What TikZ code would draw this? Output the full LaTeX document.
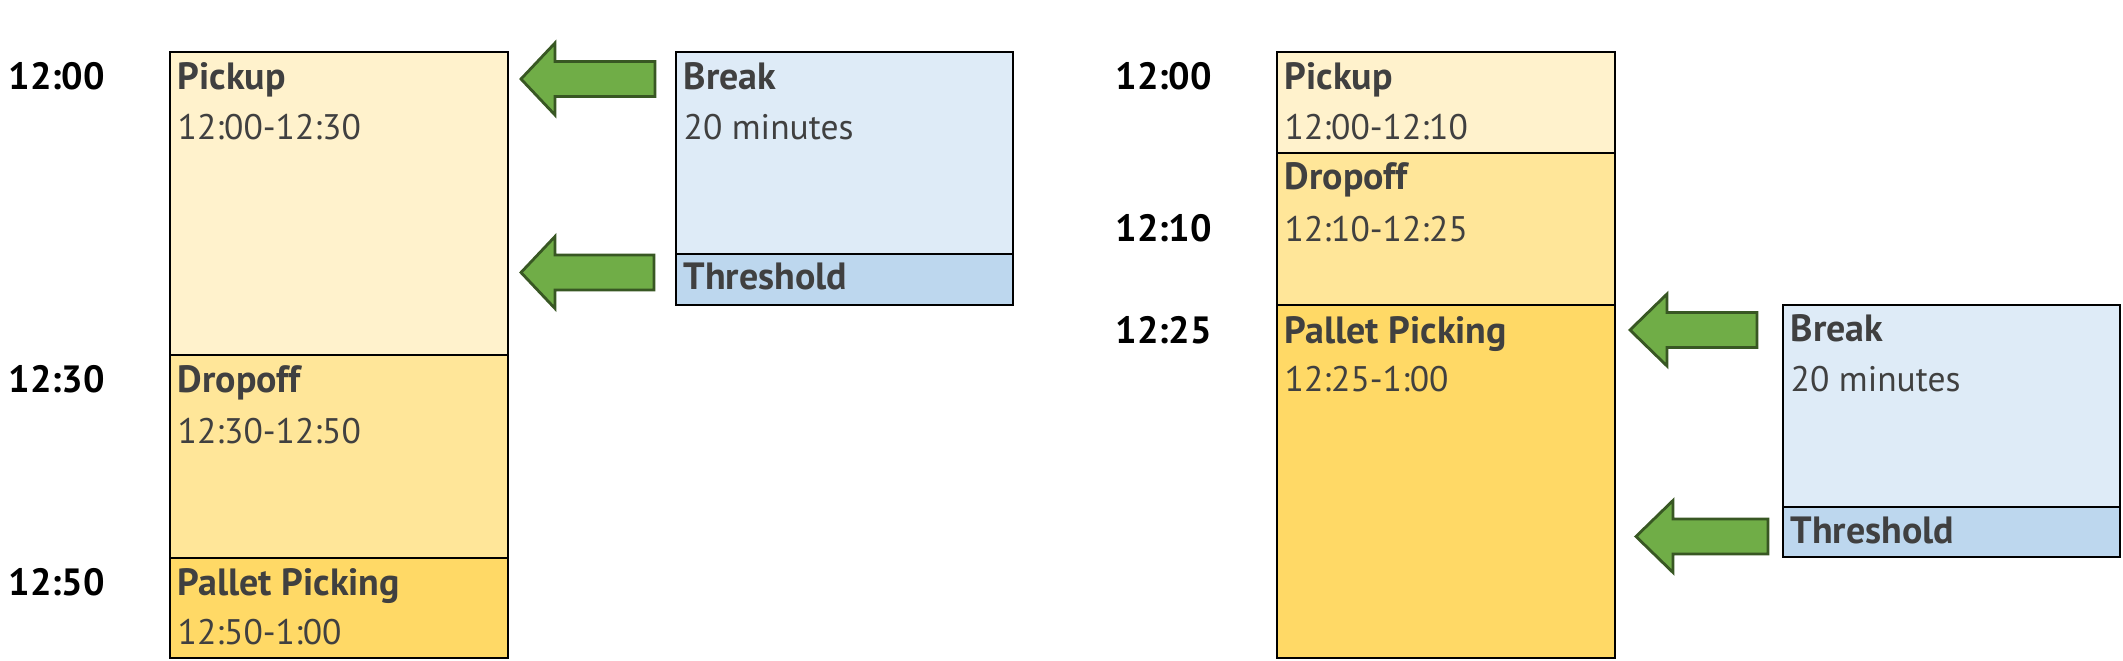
\documentclass[tikz,border=0pt]{standalone}
\usepackage{fontspec}
\setmainfont{PT Sans}

\definecolor{pickfill}{HTML}{FFF2CC}
\definecolor{dropfill}{HTML}{FFE699}
\definecolor{palletfill}{HTML}{FFD966}
\definecolor{breakfill}{HTML}{DEEBF7}
\definecolor{threshfill}{HTML}{BDD7EE}
\definecolor{arrowfill}{HTML}{70AD47}
\definecolor{arrowline}{HTML}{385723}
\definecolor{labeltext}{HTML}{404040}

\tikzset{
  slot/.style={draw=black, line width=0.6pt, rectangle, inner sep=0pt, outer sep=0pt, anchor=north west},
  clock/.style={anchor=base west, inner sep=0pt, font=\fontsize{10.8}{13}\selectfont\bfseries},
  title/.style={anchor=base west, inner sep=0pt, text=labeltext, font=\fontsize{10.8}{13}\selectfont\bfseries},
  span/.style={anchor=base west, inner sep=0pt, text=labeltext, font=\fontsize{10.1}{12}\selectfont},
  blockarrow/.style={draw=arrowline, fill=arrowfill, line width=0.8pt, line join=miter}
}

% tip x, head base x, tail x, middle y
\newcommand{\greenarrow}[4]{%
  \draw[blockarrow] (#1,#4) -- (#2,#4-36) -- (#2,#4-17.5) -- (#3,#4-17.5)
    -- (#3,#4+17.5) -- (#2,#4+17.5) -- (#2,#4+36) -- cycle;}

\begin{document}
\begin{tikzpicture}[x=0.01cm, y=-0.01cm]
    \useasboundingbox (0,0) rectangle (2123,661);

    % left schedule
    \node (pickA) [slot, fill=pickfill, minimum width=3.38cm, minimum height=3.03cm] at (170,52) {};
    \node (dropA) [slot, fill=dropfill, minimum width=3.38cm, minimum height=2.03cm] at (170,355) {};
    \node (palletA) [slot, fill=palletfill, minimum width=3.38cm, minimum height=1.00cm] at (170,558) {};
    \node (clockA1) [clock] at (8,90) {12:00};
    \node (clockA2) [clock] at (8,393) {12:30};
    \node (clockA3) [clock] at (8,596) {12:50};
    \node (pickAt) [title] at (177,90) {Pickup};
    \node (pickAs) [span] at (177,140) {12:00-12:30};
    \node (dropAt) [title] at (177,393) {Dropoff};
    \node (dropAs) [span] at (177,444) {12:30-12:50};
    \node (palletAt) [title] at (177,596) {Pallet Picking};
    \node (palletAs) [span] at (177,645) {12:50-1:00};

    \node (breakA) [slot, fill=breakfill, minimum width=3.37cm, minimum height=2.02cm] at (676,52) {};
    \node (threshA) [slot, fill=threshfill, minimum width=3.37cm, minimum height=0.51cm] at (676,254) {};
    \node (breakAt) [title] at (683,90) {Break};
    \node (breakAs) [span] at (683,140) {20 minutes};
    \node (threshAt) [title] at (683,290) {Threshold};
    \greenarrow{521}{555}{655}{79}
    \greenarrow{521}{555}{654}{272.5}

    % right schedule
    \node (pickB) [slot, fill=pickfill, minimum width=3.38cm, minimum height=1.01cm] at (1277,52) {};
    \node (dropB) [slot, fill=dropfill, minimum width=3.38cm, minimum height=1.52cm] at (1277,153) {};
    \node (palletB) [slot, fill=palletfill, minimum width=3.38cm, minimum height=3.53cm] at (1277,305) {};
    \node (clockB1) [clock] at (1115,90) {12:00};
    \node (clockB2) [clock] at (1115,242) {12:10};
    \node (clockB3) [clock] at (1115,344) {12:25};
    \node (pickBt) [title] at (1284,90) {Pickup};
    \node (pickBs) [span] at (1284,140) {12:00-12:10};
    \node (dropBt) [title] at (1284,190) {Dropoff};
    \node (dropBs) [span] at (1284,242) {12:10-12:25};
    \node (palletBt) [title] at (1284,344) {Pallet Picking};
    \node (palletBs) [span] at (1284,392) {12:25-1:00};

    \node (breakB) [slot, fill=breakfill, minimum width=3.37cm, minimum height=2.02cm] at (1783,305) {};
    \node (threshB) [slot, fill=threshfill, minimum width=3.37cm, minimum height=0.50cm] at (1783,507) {};
    \node (breakBt) [title] at (1790,342) {Break};
    \node (breakBs) [span] at (1790,392) {20 minutes};
    \node (threshBt) [title] at (1790,544) {Threshold};
    \greenarrow{1630}{1667}{1757}{330}
    \greenarrow{1636}{1673}{1768}{536.5}
\end{tikzpicture}
\end{document}
